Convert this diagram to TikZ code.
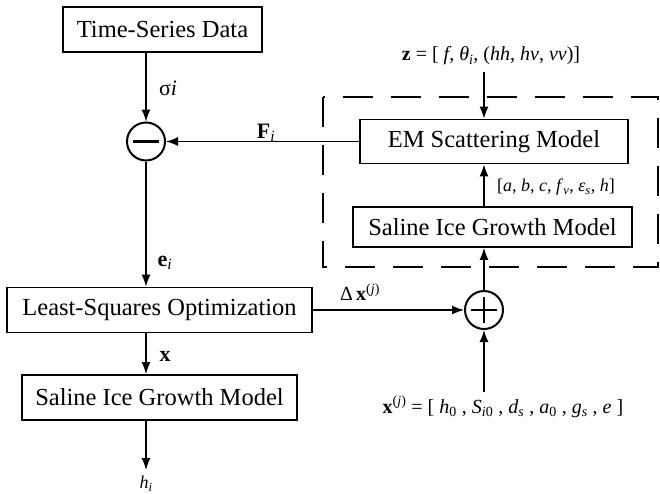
\documentclass[tikz,border=0pt]{standalone}
\usepackage{fontspec}
\setmainfont{Liberation Serif}
\usetikzlibrary{arrows.meta}
\begin{document}
\begin{tikzpicture}[x=1pt,y=-1pt,
  box/.style={draw,line width=1.8pt,inner sep=0pt,font=\fontsize{24.5}{28}\selectfont},
  arr/.style={line width=1.3pt,-{Latex[length=12pt,width=9pt]}},
  bar/.style={line width=2.5pt},
  lab/.style={font=\fontsize{18}{21}\selectfont,inner sep=0pt},
  biglab/.style={font=\fontsize{22}{26}\selectfont,inner sep=0pt},
  midlab/.style={font=\fontsize{20}{24}\selectfont,inner sep=0pt},
  sumc/.style={draw,circle,line width=2pt,minimum size=38pt,inner sep=0pt},
  dbox/.style={line width=2.2pt,dash pattern=on 30pt off 18pt}]
\useasboundingbox (0,0) rectangle (660,493);
% boxes
\node[box,minimum width=199pt,minimum height=45pt] (tsd) at (162.5,29.5) {Time-Series Data};
\node[box,minimum width=268pt,minimum height=44pt] (em) at (494,141.5) {EM Scattering Model};
\node[box,minimum width=279pt,minimum height=40pt] (sig) at (492.5,227) {Saline Ice Growth Model};
\node[box,minimum width=305pt,minimum height=45pt] (lso) at (159.5,310) {Least-Squares Optimization};
\node[box,minimum width=275pt,minimum height=45pt] (sig2) at (159.5,397.5) {Saline Ice Growth Model};
% summing junctions
\node[sumc] (minus) at (146,141.5) {};
\draw[bar] ([xshift=-13pt]minus.center) -- ([xshift=13pt]minus.center);
\node[sumc] (plus) at (484,310) {};
\draw[bar] ([xshift=-13pt]plus.center) -- ([xshift=13pt]plus.center);
\draw[bar] ([yshift=-13pt]plus.center) -- ([yshift=13pt]plus.center);
% dashed group
\draw[dbox] (323,97) rectangle (658,267);
% free ends
\coordinate (hi) at (146,470);
\coordinate (ztop) at (484,72);
\coordinate (xjb) at (484,392);
% connectors
\draw[arr] (minus |- tsd.south) -- (minus.north);
\draw[arr] (em.west) -- (minus.east);
\draw[arr] (minus.south) -- (minus |- lso.north);
\draw[arr] (minus |- lso.south) -- (minus |- sig2.north);
\draw[arr] (minus |- sig2.south) -- (hi);
\draw[arr] (lso.east) -- (plus.west);
\draw[arr] (xjb) -- (plus.south);
\draw[arr] (plus.north) -- (plus |- sig.south);
\draw[arr] (plus |- sig.north) -- (plus |- em.south);
\draw[arr] (ztop) -- (ztop |- em.north);
% labels
\node[biglab] (lsig) at (168,88) {σ\textit{i}};
\node[biglab] (lF) at (266,133) {\textbf{F}\textsubscript{\textit{i}}};
\node[biglab] (le) at (165,263) {\textbf{e}\textsubscript{\textit{i}}};
\node[biglab] (lx) at (165,356) {\textbf{x}};
\node[lab] (lh) at (146,484) {\textit{h}\textsubscript{\textit{i}}};
\node[midlab] (ldx) at (360,292) {Δ\,\textbf{x}\textsuperscript{(\textit{j})}};
\node[midlab] (lz) at (491,56) {\textbf{z} = [ \textit{f}, \textit{θ}\textsubscript{\textit{i}}, (\textit{hh}, \textit{hv}, \textit{vv})]};
\node[lab,anchor=west] (labc) at (497,187) {[\textit{a}, \textit{b}, \textit{c}, \textit{f}\textsubscript{\textit{v}}, \textit{ε}\textsubscript{\textit{s}}, \textit{h}]};
\node[midlab] (lxj) at (503,407) {\textbf{x}\textsuperscript{(\textit{j})} = [ \textit{h}\textsubscript{0} , \textit{S}\textsubscript{\textit{i}0} , \textit{d}\textsubscript{\textit{s}} , \textit{a}\textsubscript{0} , \textit{g}\textsubscript{\textit{s}} , \textit{e} ]};
\end{tikzpicture}
\end{document}
